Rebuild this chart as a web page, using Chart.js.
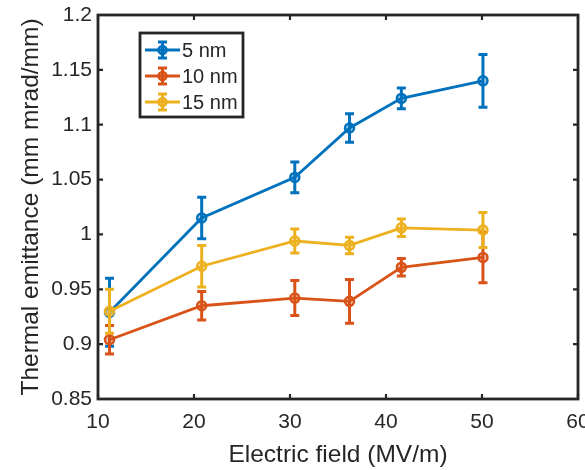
<!DOCTYPE html>
<html>
<head>
<meta charset="utf-8">
<script src="https://cdn.jsdelivr.net/npm/chart.js@4.4.1/dist/chart.umd.min.js"></script>
<style>
html,body{margin:0;padding:0;background:#fff;}
canvas{display:block;}
</style>
</head>
<body>
<canvas id="c" width="585" height="470"></canvas>
<script>
const fields = [11.2, 20.8, 30.5, 36.2, 41.6, 50.1];
const emit5 = [0.929, 1.015, 1.052, 1.097, 1.124, 1.140];
const err5 = [0.031, 0.019, 0.014, 0.013, 0.0095, 0.024];
const emit10 = [0.904, 0.935, 0.942, 0.939, 0.970, 0.979];
const err10 = [0.013, 0.013, 0.016, 0.020, 0.008, 0.023];
const emit15 = [0.930, 0.971, 0.994, 0.990, 1.006, 1.004];
const err15 = [0.020, 0.019, 0.011, 0.0075, 0.008, 0.016];
const seriesLabels = ['5 nm', '10 nm', '15 nm'];
const xTicks = [10, 20, 30, 40, 50, 60];
const yTicks = [0.85, 0.9, 0.95, 1, 1.05, 1.1, 1.15, 1.2];

const colors = ['#0072BD', '#D95319', '#EDB120'];
const fills = ['rgba(0,114,189,0.35)', 'rgba(217,83,25,0.35)', 'rgba(237,177,32,0.35)'];
const AX = '#262626';
const FONT = "'Liberation Sans', Arial, sans-serif";

function mk(i, vals, errs, order) {
  return {
    label: seriesLabels[i],
    data: fields.map((x, k) => ({x: x, y: vals[k]})),
    errors: errs,
    showLine: true,
    borderColor: colors[i],
    backgroundColor: fills[i],
    pointBorderColor: colors[i],
    pointBackgroundColor: fills[i],
    borderWidth: 2.8,
    pointRadius: 4.5,
    pointBorderWidth: 2.5,
    order: order,
    clip: false
  };
}

const errorBars = {
  id: 'errorBars',
  beforeDatasetDraw(chart, args) {
    const ds = chart.data.datasets[args.index];
    const ys = chart.scales.y;
    const ctx = chart.ctx;
    ctx.save();
    ctx.strokeStyle = ds.borderColor;
    ctx.lineWidth = 3;
    args.meta.data.forEach((pt, k) => {
      const v = ds.data[k].y, e = ds.errors[k];
      const y1 = ys.getPixelForValue(v + e), y2 = ys.getPixelForValue(v - e);
      const x = pt.x;
      ctx.beginPath();
      ctx.moveTo(x, y1); ctx.lineTo(x, y2);
      ctx.moveTo(x - 4.5, y1); ctx.lineTo(x + 4.5, y1);
      ctx.moveTo(x - 4.5, y2); ctx.lineTo(x + 4.5, y2);
      ctx.stroke();
    });
    ctx.restore();
  }
};

const frame = {
  id: 'frame',
  afterDraw(chart) {
    const {ctx, chartArea: a, scales} = chart;
    ctx.save();
    ctx.strokeStyle = AX;
    ctx.lineWidth = 2.8;
    ctx.strokeRect(a.left, a.top, a.right - a.left, a.bottom - a.top);
    ctx.lineWidth = 2.2;
    ctx.beginPath();
    const tl = 5;
    scales.x.ticks.forEach(t => {
      const x = scales.x.getPixelForValue(t.value);
      ctx.moveTo(x, a.bottom); ctx.lineTo(x, a.bottom - tl);
      ctx.moveTo(x, a.top); ctx.lineTo(x, a.top + tl);
    });
    scales.y.ticks.forEach(t => {
      const y = scales.y.getPixelForValue(t.value);
      ctx.moveTo(a.left, y); ctx.lineTo(a.left + tl, y);
      ctx.moveTo(a.right, y); ctx.lineTo(a.right - tl, y);
    });
    ctx.stroke();

    // legend
    const bx = a.left + 42, by = a.top + 18, bw = 103, bh = 84;
    ctx.fillStyle = '#fff';
    ctx.fillRect(bx, by, bw, bh);
    ctx.strokeStyle = AX;
    ctx.lineWidth = 2.8;
    ctx.strokeRect(bx, by, bw, bh);
    chart.data.datasets.forEach((ds, i) => {
      const y = by + 17 + i * 26;
      const x0 = bx + 5, x1 = bx + 40, xm = (x0 + x1) / 2;
      ctx.strokeStyle = ds.borderColor;
      ctx.lineWidth = 3;
      ctx.beginPath();
      ctx.moveTo(x0, y); ctx.lineTo(x1, y);
      ctx.moveTo(xm, y - 8); ctx.lineTo(xm, y + 8);
      ctx.moveTo(xm - 4.5, y - 8); ctx.lineTo(xm + 4.5, y - 8);
      ctx.moveTo(xm - 4.5, y + 8); ctx.lineTo(xm + 4.5, y + 8);
      ctx.stroke();
      ctx.beginPath();
      ctx.arc(xm, y, 4, 0, Math.PI * 2);
      ctx.fillStyle = ds.backgroundColor;
      ctx.fill();
      ctx.lineWidth = 2.5;
      ctx.stroke();
      ctx.fillStyle = AX;
      ctx.font = '20px ' + FONT;
      ctx.textBaseline = 'middle';
      ctx.textAlign = 'left';
      ctx.fillText(ds.label, x1 + 2, y + 1);
    });
    ctx.restore();
  }
};

new Chart(document.getElementById('c'), {
  type: 'scatter',
  data: {
    datasets: [
      mk(0, emit5, err5, 3),
      mk(1, emit10, err10, 2),
      mk(2, emit15, err15, 1)
    ]
  },
  options: {
    responsive: false,
    animation: false,
    devicePixelRatio: 1,
    layout: {padding: {top: 15, right: 5, left: 0, bottom: 0}},
    plugins: {legend: {display: false}, tooltip: {enabled: false}},
    scales: {
      x: {
        type: 'linear',
        min: 10, max: 60,
        afterBuildTicks: s => { s.ticks = xTicks.map(v => ({value: v})); },
        afterFit: s => { s.height = 71; s.paddingLeft = 0; s.paddingRight = 0; },
        grid: {display: false, drawTicks: false},
        border: {display: false},
        ticks: {color: AX, font: {family: FONT, size: 21}, padding: 11, maxRotation: 0, autoSkip: false},
        title: {display: true, text: 'Electric field (MV/m)', color: AX, font: {family: FONT, size: 24.5}, padding: {top: 4, bottom: 0}}
      },
      y: {
        type: 'linear',
        min: 0.85, max: 1.2,
        afterBuildTicks: s => { s.ticks = yTicks.map(v => ({value: v})); },
        afterFit: s => { s.width = 98; s.paddingTop = 0; s.paddingBottom = 0; },
        grid: {display: false, drawTicks: false},
        border: {display: false},
        ticks: {color: AX, font: {family: FONT, size: 21}, padding: 6, autoSkip: false,
          callback: v => String(+Number(v).toFixed(2))},
        title: {display: true, text: 'Thermal emittance (mm mrad/mm)', color: AX, font: {family: FONT, size: 24.5}, padding: {top: 17, bottom: 0}}
      }
    }
  },
  plugins: [errorBars, frame]
});
</script>
</body>
</html>
